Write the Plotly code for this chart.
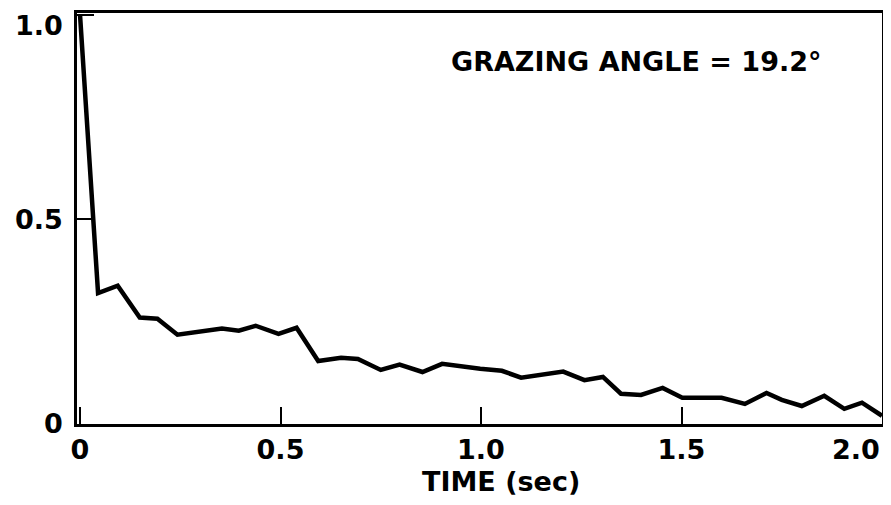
import plotly.graph_objects as go

# time axis (sec) and normalized value
time_sec = [0.0, 0.045, 0.094, 0.149, 0.193, 0.243, 0.354, 0.396, 0.438, 0.495,
            0.54, 0.594, 0.651, 0.693, 0.75, 0.797, 0.854, 0.903, 0.998, 1.052,
            1.10, 1.205, 1.258, 1.304, 1.349, 1.399, 1.453, 1.502, 1.60, 1.658,
            1.712, 1.75, 1.80, 1.856, 1.906, 1.95, 2.0]
value = [1.0, 0.32, 0.338, 0.26, 0.257, 0.218, 0.233, 0.228, 0.24, 0.22,
         0.235, 0.154, 0.162, 0.159, 0.132, 0.145, 0.127, 0.147, 0.135, 0.13,
         0.113, 0.128, 0.107, 0.115, 0.074, 0.071, 0.088, 0.064, 0.064, 0.049,
         0.076, 0.059, 0.044, 0.069, 0.037, 0.052, 0.02]

x_ticks = [0, 0.5, 1.0, 1.5, 2.0]
x_labels = ['0', '0.5', '1.0', '1.5', '2.0']
y_ticks = [0, 0.5, 1.0]
y_labels = ['0', '0.5', '1.0']

FONT = 'DejaVu Sans'
tick_font = dict(family=FONT, size=27, color='black', weight='bold')

fig = go.Figure()
fig.add_trace(go.Scatter(x=time_sec, y=value, mode='lines',
                         line=dict(color='black', width=4.5), showlegend=False))

axis_common = dict(showline=True, linecolor='black', linewidth=2.5, mirror=True,
                   showgrid=False, zeroline=False, ticks='inside', ticklen=17,
                   tickwidth=2, tickcolor='black', tickfont=tick_font,
                   ticklabeloverflow='allow', automargin=False)

# the end labels (2.0 on x, 1.0 on y) sit at the page edges, so they are
# placed as annotations instead of regular tick labels
fig.update_xaxes(range=[-0.0075, 2.0], tickvals=x_ticks,
                 ticktext=x_labels[:-1] + [''], **axis_common)
fig.update_yaxes(range=[0, 1.004], tickvals=y_ticks,
                 ticktext=y_labels[:-1] + [''], ticklabelstandoff=6, **axis_common)

fig.add_annotation(x=x_ticks[-1], y=0, xref='x', yref='paper', text=x_labels[-1],
                   showarrow=False, xanchor='right', yanchor='top', yshift=-8,
                   font=tick_font)
fig.add_annotation(x=0, y=y_ticks[-1], xref='paper', yref='y', text=y_labels[-1],
                   showarrow=False, xanchor='right', yanchor='top', xshift=-13,
                   yshift=6, borderpad=0, font=tick_font)
fig.add_annotation(x=0.527, y=-0.1, xref='paper', yref='paper',
                   text='TIME (sec)', showarrow=False, xanchor='center', yanchor='top',
                   borderpad=0, font=dict(family=FONT, size=27, color='black', weight='bold'))
fig.add_annotation(x=0.694, y=0.881, xref='paper', yref='paper',
                   text='GRAZING ANGLE = 19.2°', showarrow=False,
                   xanchor='center', yanchor='middle',
                   font=dict(family=FONT, size=27, color='black', weight='bold'))

# page body has an 8px margin (and clips at its width), so the figure is
# sized/offset to land the axes where the reference has them
fig.update_layout(width=875, height=489, plot_bgcolor='white', paper_bgcolor='white',
                  margin=dict(l=69, r=1, t=5, b=73))

fig.write_html('out.html')
